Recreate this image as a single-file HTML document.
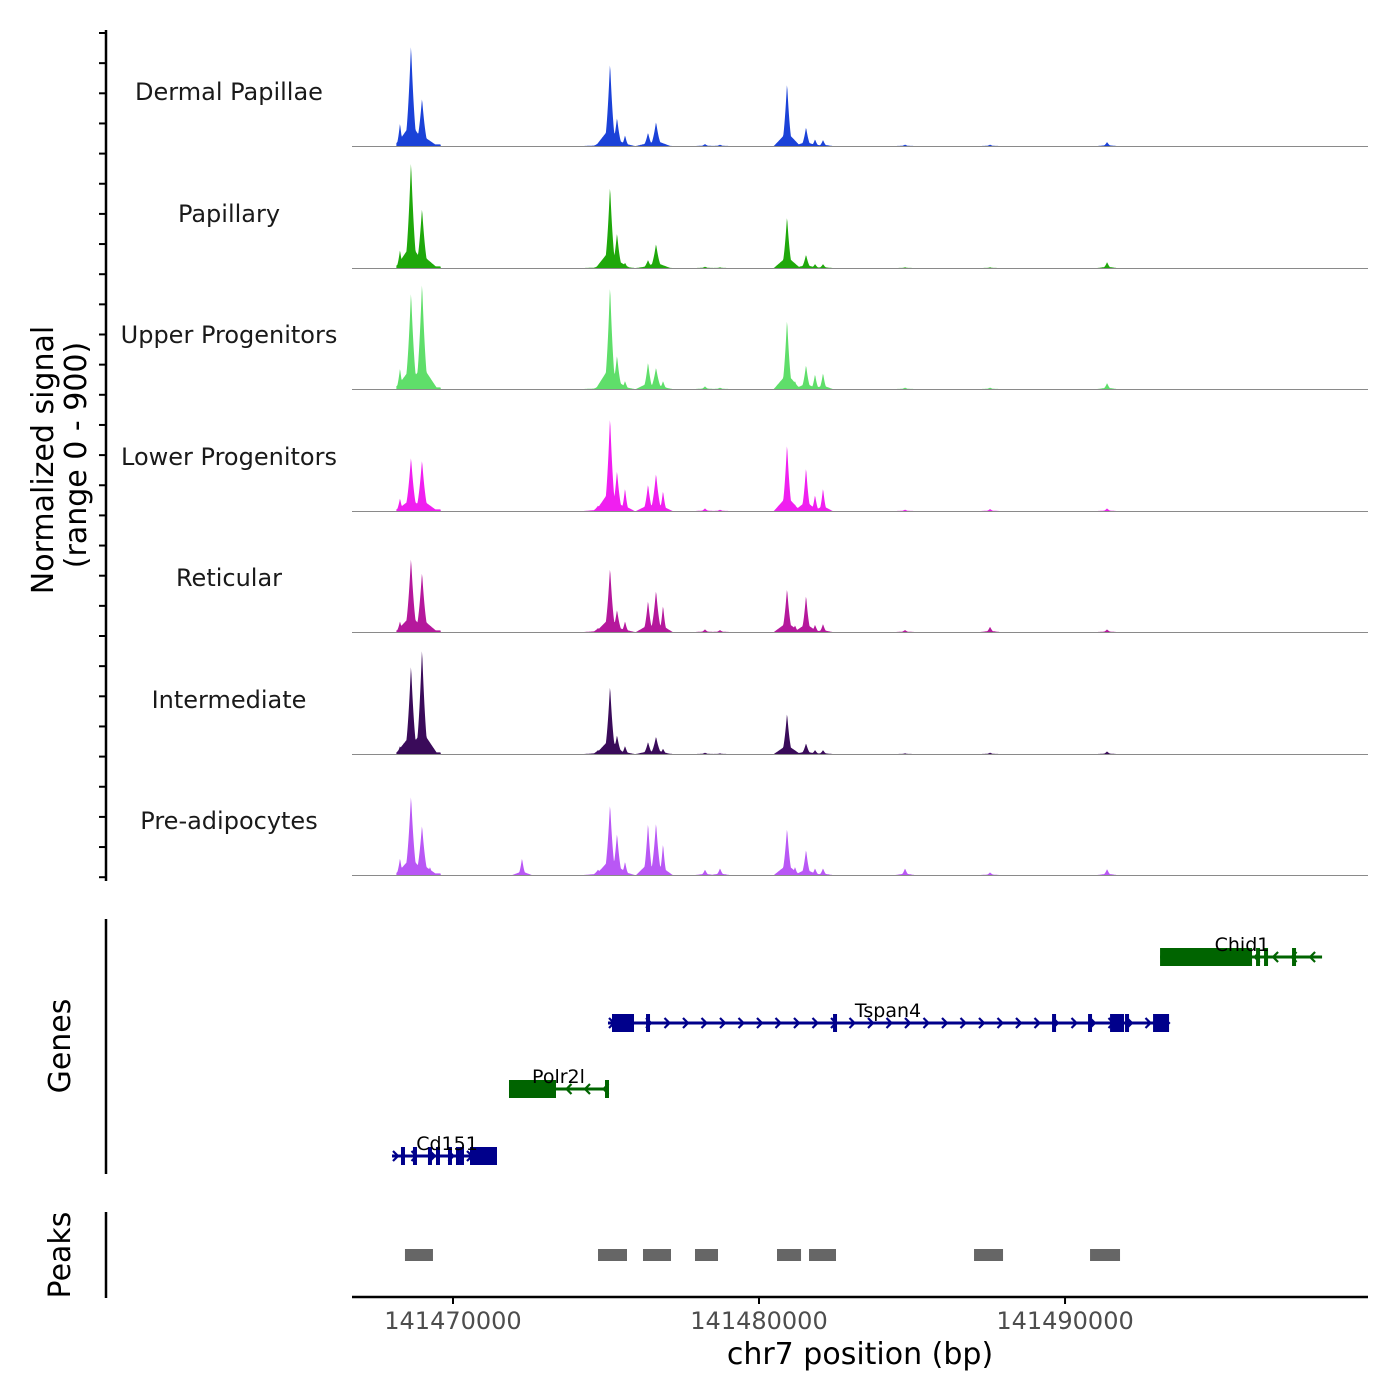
<!DOCTYPE html>
<html><head><meta charset="utf-8"><style>
html,body{margin:0;padding:0;background:#fff;}
svg{display:block;font-family:"DejaVu Sans","Liberation Sans",sans-serif;}
</style></head><body>
<svg id="chart" width="1400" height="1400" viewBox="0 0 1400 1400" xmlns="http://www.w3.org/2000/svg">
<g id="tracks"></g>
<g id="genes"></g>
<g id="peaks"></g>
<g id="axes"></g>
</svg>
<script>
const trackNames = ["Dermal Papillae","Papillary","Upper Progenitors","Lower Progenitors","Reticular","Intermediate","Pre-adipocytes"];
const trackColors = ["#1b42d8","#1fa80b","#5fde6a","#f01ff0","#b5189c","#3a0b5a","#b957f5"];
const peakPositions = [141468268,141468627,141468987,141469248,141472255,141474739,141475131,141475359,141475621,141476373,141476634,141476863,141478235,141478725,141480915,141481176,141481536,141481830,141482091,141484771,141487549,141491373];
const peakWidths = [4,6.5,6.5,4,4,6,6,5.5,4,5,6,4,4,4,5.5,4,5,4,4,4,4,4];
const sigDermal = [170,750,355,30,0,20,620,210,80,100,180,20,15,10,470,40,140,50,45,10,10,30];
const sigPapillary = [135,790,445,30,0,15,610,260,40,60,180,20,10,5,385,30,100,30,30,5,5,45];
const sigUpper = [155,720,790,80,0,20,770,250,60,200,160,60,20,10,520,60,180,110,120,10,10,45];
const sigLower = [95,400,380,40,0,40,700,300,170,200,280,150,20,10,500,50,325,120,170,10,15,20];
const sigReticular = [80,550,445,40,0,30,480,165,80,235,310,200,20,15,325,50,275,55,60,15,40,20];
const sigIntermediate = [60,660,785,40,0,30,510,140,60,90,130,40,10,5,305,30,80,30,30,5,10,20];
const sigPreadip = [125,590,370,60,125,40,530,310,100,390,390,235,40,50,350,60,190,50,50,50,20,45];
const signals = [sigDermal,sigPapillary,sigUpper,sigLower,sigReticular,sigIntermediate,sigPreadip];
const xTicks = [141470000,141480000,141490000];
const xTickLabels = ["141470000","141480000","141490000"];
const peakStarts = [141468431,141474739,141476209,141477908,141480588,141481634,141487026,141490817];
const peakEnds = [141469346,141475686,141477124,141478660,141481373,141482516,141487974,141491797];
const geneNames = ["Chid1","Tspan4","Polr2l","Cd151"];
const geneStrands = ["-","+","-","+"];
const geneStarts = [141493105,141475065,141471830,141468007];
const geneEnds = [141498399,141493367,141475065,141471438];
const geneExons = [
 [[141493105,141496111]],
 [[141475196,141475915],[141491471,141491928],[141492876,141493399]],
 [[141471830,141473366]],
 [[141470556,141471438]]
];
const geneTicks = [
 [141496307,141496568,141497483],
 [141476373,141482484,141489641,141490817,141492026],
 [141475033],
 [141468366,141468758,141469248,141469510,141469902,141470163,141470294]
];
const geneColors = ["#006400","#00008b","#006400","#00008b"];

const NS="http://www.w3.org/2000/svg";
const X0=352, X1=1368, BP0=141466700, BP1=141499900;
function xs(bp){return X0+(bp-BP0)/(BP1-BP0)*(X1-X0);}
const baselines=[146,268,389,511,632,754,875];
const trackH=121.5, maxSig=900;
function ys(v,i){return baselines[i]-v/maxSig*trackH;}
function mk(tag,attrs,parent){const e=document.createElementNS(NS,tag);for(const k in attrs)e.setAttribute(k,attrs[k]);parent.appendChild(e);return e;}

const gT=document.getElementById('tracks');
signals.forEach((vals,i)=>{
  const startX=xs(141468150), endX=xs(141498500);
  let d=`M${startX},${baselines[i]}`;
  for(let px=startX;px<=endX;px+=0.5){
    let v=0;
    for(let k=0;k<peakPositions.length;k++){
      const c=xs(peakPositions[k]);const w=peakWidths[k];
      const dd=Math.abs(px-c);
      const f=Math.max(0,1-dd/w);
      const s=Math.max(0,1-dd/(w*2.4));
      v=Math.max(v,vals[k]*f*f*0.7+vals[k]*0.3*f, vals[k]*0.22*s);
    }
    if(px<xs(141469600)) v=Math.max(v,12);
    d+=`L${px.toFixed(1)},${ys(v,i).toFixed(1)}`;
  }
  d+=`L${endX},${baselines[i]}Z`;
  const p=mk('path',{d:d,fill:trackColors[i]},gT);
  
  
  const l=mk('line',{x1:X0,x2:X1,y1:baselines[i]+0.5,y2:baselines[i]+0.5,stroke:'#8a8a8a','stroke-width':1},gT);
  
  
  const t=mk('text',{x:229,y:baselines[i]-46,'text-anchor':'middle','font-size':24,fill:'#1a1a1a'},gT);
  t.textContent=trackNames[i];
  
  
});

const gG=document.getElementById('genes');
const geneY=[957,1023,1089,1156];
geneNames.forEach((n,i)=>{
  const y=geneY[i], c=geneColors[i];
  const g=mk('g',{},gG);
  
  
  mk('line',{x1:xs(geneStarts[i]),x2:xs(geneEnds[i]),y1:y,y2:y,stroke:c,'stroke-width':3},g);
  const a0=xs(geneStarts[i]), a1=xs(geneEnds[i]);
  for(let px=a0+4;px<=a1;px+=18.5){
    const dir=geneStrands[i]=='+'?1:-1;
    mk('polyline',{points:`${px-3*dir},${y-5} ${px+2*dir},${y} ${px-3*dir},${y+5}`,fill:'none',stroke:c,'stroke-width':2.2},g);
  }
  geneTicks[i].forEach(t=>mk('rect',{x:xs(t)-2,y:y-9,width:4,height:18,fill:c},g));
  geneExons[i].forEach(e=>mk('rect',{x:xs(e[0]),y:y-9,width:xs(e[1])-xs(e[0]),height:18,fill:c},g));
  const lbl=mk('text',{x:(a0+a1)/2,y:y-6,'text-anchor':'middle','font-size':19,fill:'#000'},g);
  if(i==0) lbl.setAttribute('x',1242);
  if(i==3) lbl.setAttribute('x',447);
  lbl.textContent=n;
});

const gP=document.getElementById('peaks');
peakStarts.forEach((s,i)=>{
  const r=mk('rect',{x:xs(s),y:1249,width:xs(peakEnds[i])-xs(s),height:12,fill:'#666666'},gP);
  
  
});

const gA=document.getElementById('axes');
function ln(x1,y1,x2,y2,w,name){const l=mk('line',{x1,y1,x2,y2,stroke:'#000','stroke-width':w},gA);return l;}
ln(106,30,106,881,2.5,'signal-y-axis-line');
for(let k=0;k<29;k++){const y=33+k*30.15;ln(99,y,106,y,2,'signal-y-tick');}
ln(106,919,106,1174,2.5,'genes-axis-line');
ln(106,1212,106,1298,2.5,'peaks-axis-line');
ln(352,1297,1368,1297,2.5,'x-axis-line');
xTicks.forEach((t,i)=>{
  ln(xs(t),1297,xs(t),1304,2,'x-tick');
  const tx=mk('text',{x:xs(t),y:1329,'text-anchor':'middle','font-size':24,fill:'#4d4d4d'},gA);
  tx.textContent=xTickLabels[i];
  
  
});
function txt(s,x,y,size,rot,name){const t=mk('text',{x,y,'text-anchor':'middle','font-size':size,fill:'#000'},gA);if(rot)t.setAttribute('transform',`rotate(-90 ${x} ${y})`);t.textContent=s;return t;}
txt('chr7 position (bp)',860,1364,30,false,'x-axis-title');
txt('Normalized signal',53,460,30,true,'y-axis-title');
txt('(range 0 - 900)',86,455,30,true,'y-axis-subtitle');
txt('Genes',70,1046,30,true,'genes-axis-title');
txt('Peaks',70,1255,30,true,'peaks-axis-title');
</script>
</body></html>
